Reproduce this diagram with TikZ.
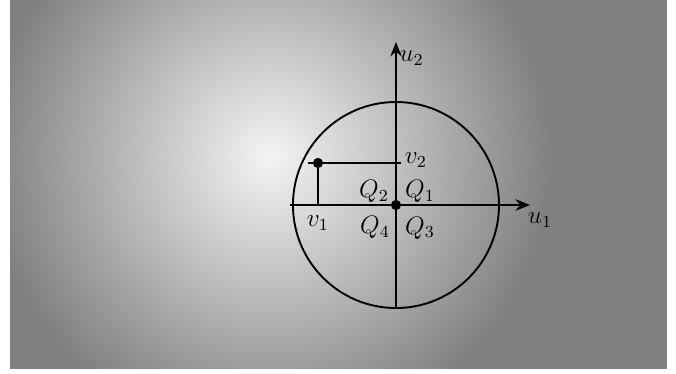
\documentclass[tikz,border=0pt]{standalone}
\usepackage{amsmath,amssymb}
\usepackage{xcolor}
\usepackage{tikz}
\usetikzlibrary{calc,arrows.meta,positioning}
\definecolor{bgedge}{HTML}{808080}
\definecolor{bgmid}{HTML}{F4F4F4}
\tikzset{
  ar/.style={-{Stealth[length=2.4mm,width=1.9mm]},line width=0.9pt,black},
  ln/.style={line width=0.9pt,black},
  lbl/.style={font=\large,inner sep=1pt}
}
\begin{document}
\begin{tikzpicture}
\def\R{1.717}
\useasboundingbox (-6.6,-2.8) rectangle (4.667,3.417);
% background
\begin{scope}
\clip (-6.433,-2.733) rectangle (4.517,3.417);
\fill[bgedge] (-6.433,-2.733) rectangle (4.517,3.417);
\shade[inner color=bgmid,outer color=bgedge] (-2.1,0.8) circle (4.7);
\end{scope}
\coordinate (O) at (0,0);
\coordinate (L) at (-1.767,0); \coordinate (E) at (2.233,0);
\coordinate (S) at (0,-\R); \coordinate (N) at (0,2.717);
\coordinate (P) at (-1.3,0.7);
\coordinate (Ph) at (-1.467,0.7); \coordinate (Pv) at (0.083,0.7);
\coordinate (Pt) at (-1.3,0.783); \coordinate (Pa) at (-1.3,0);
\draw[ln] (O) circle (\R);
\draw[ar] (L)--(E);
\draw[ar] (S)--(N);
\draw[ln] (Ph)--(Pv);
\draw[ln] (Pt)--(Pa);
\fill (O) circle (0.085);
\fill (P) circle (0.085);
\node[lbl] (u1) at (2.4,-0.25) {$u_1$};
\node[lbl] (u2) at (0.26,2.45) {$u_2$};
\node[lbl] (v1) at (-1.3,-0.3) {$v_1$};
\node[lbl] (v2) at (0.333,0.75) {$v_2$};
\node[lbl] (q1) at (0.4,0.233) {$Q_1$};
\node[lbl] (q2) at (-0.367,0.233) {$Q_2$};
\node[lbl] (q3) at (0.4,-0.383) {$Q_3$};
\node[lbl] (q4) at (-0.35,-0.367) {$Q_4$};
\end{tikzpicture}
\end{document}
